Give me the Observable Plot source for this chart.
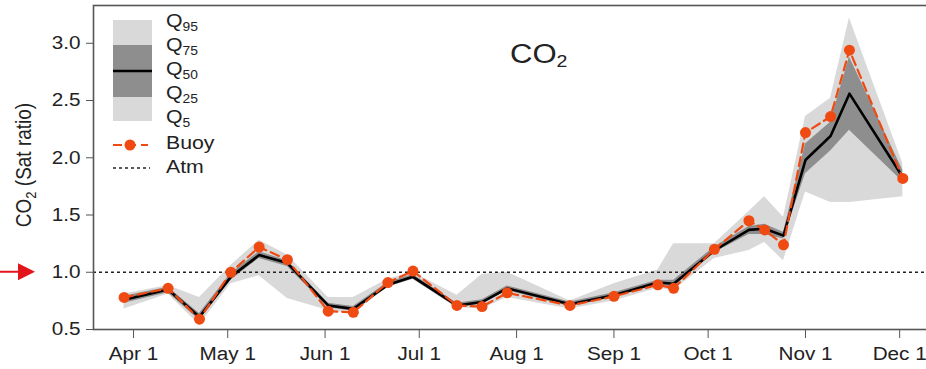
<!DOCTYPE html>
<html><head><meta charset="utf-8">
<script src="https://cdn.jsdelivr.net/npm/d3@7"></script>
<script src="https://cdn.jsdelivr.net/npm/@observablehq/plot@0.6"></script>
<style>body{margin:0;background:#fff;} #chart{width:926px;height:369px;overflow:hidden;}</style>
</head><body><div id="chart"></div>
<script>
// ---- data ----
const dates = ["2018-03-29","2018-04-12","2018-04-22","2018-05-02","2018-05-11","2018-05-20","2018-06-02","2018-06-10","2018-06-21","2018-06-29","2018-07-13","2018-07-21","2018-07-29","2018-08-18","2018-09-01","2018-09-15","2018-09-20","2018-10-03","2018-10-14","2018-10-19","2018-10-25","2018-11-01","2018-11-09","2018-11-15","2018-12-02"];
const q95  = [0.81,0.885,0.78,1.06,1.28,1.15,0.78,0.78,0.94,1.00,0.80,0.98,1.00,0.75,0.90,1.02,1.25,1.25,1.53,1.66,1.48,2.36,2.52,3.22,1.95];
const q75  = [0.79,0.87,0.64,0.99,1.18,1.10,0.73,0.70,0.91,0.98,0.73,0.76,0.88,0.74,0.82,0.93,0.93,1.22,1.40,1.42,1.35,2.12,2.31,2.88,1.89];
const q50  = [0.76,0.85,0.61,0.96,1.15,1.08,0.71,0.68,0.89,0.96,0.71,0.74,0.86,0.72,0.80,0.91,0.90,1.19,1.37,1.38,1.32,1.98,2.19,2.56,1.83];
const q25  = [0.73,0.82,0.58,0.93,1.12,1.05,0.69,0.66,0.87,0.94,0.69,0.72,0.84,0.70,0.78,0.89,0.87,1.17,1.33,1.33,1.29,1.86,2.06,2.24,1.79];
const q5   = [0.68,0.81,0.54,0.90,0.97,0.77,0.666,0.64,0.87,0.945,0.69,0.68,0.78,0.68,0.75,0.86,0.84,1.12,1.19,1.26,1.10,1.70,1.61,1.61,1.66];
const buoy = [0.78,0.86,0.59,1.00,1.22,1.11,0.66,0.65,0.91,1.01,0.71,0.70,0.82,0.71,0.79,0.89,0.86,1.20,1.45,1.37,1.24,2.22,2.36,2.94,1.82];
const atm = [1.0];
const yTicks = [0.5,1.0,1.5,2.0,2.5,3.0];
const xTicks = ["2018-04-01","2018-05-01","2018-06-01","2018-07-01","2018-08-01","2018-09-01","2018-10-01","2018-11-01","2018-12-01"];
const legendQ = [["Q","95"],["Q","75"],["Q","50"],["Q","25"],["Q","5"]];
const legendBuoy = "Buoy", legendAtm = "Atm";
const titleMain = "CO", titleSub = "2";
const yLabel = ["CO","2"," (Sat ratio)"];

const ORANGE = "#ef4a12";
const FONT = "'Liberation Sans', Arial, Helvetica, sans-serif";
const data = dates.map((d,i)=>({date:new Date(d), q5:q5[i], q25:q25[i], q50:q50[i], q75:q75[i], q95:q95[i], buoy:buoy[i]}));

const plot = Plot.plot({
  width: 926, height: 369,
  marginLeft: 93, marginRight: -3, marginTop: 5, marginBottom: 40,
  style: {fontFamily: FONT, fontSize: "18px", color: "#222", background: "#fff"},
  x: {type: "utc", domain: [new Date(Date.UTC(2018,2,19,6)), new Date(Date.UTC(2018,11,10,12))]},
  y: {domain: [0.5, 3.33]},
  marks: [
    Plot.areaY(data, {x:"date", y1:"q5", y2:"q95", fill:"#d9d9d9"}),
    Plot.areaY(data, {x:"date", y1:"q25", y2:"q75", fill:"#8e8e8e"}),
    Plot.ruleY(atm, {stroke:"#222", strokeWidth:1.4, strokeDasharray:"3,3"}),
    Plot.line(data, {x:"date", y:"q50", stroke:"#000", strokeWidth:2.6}),
    Plot.line(data, {x:"date", y:"buoy", stroke:ORANGE, strokeWidth:2.2, strokeDasharray:"9,5"}),
    Plot.dot(data, {x:"date", y:"buoy", r:5.5, fill:ORANGE, stroke:"none"}),
    Plot.frame({stroke:"#555", strokeWidth:1.6}),
    Plot.axisY({ticks:yTicks, tickFormat:d3.format(".1f"), tickSize:7, tickPadding:6, fontSize:18, label:null, stroke:"#555"}),
    Plot.axisX({ticks:xTicks.map(d=>new Date(d)), tickFormat:d3.utcFormat("%b %-d"), tickSize:9, tickPadding:9, fontSize:18, label:null, stroke:"#555"})
  ]
});
document.getElementById("chart").append(plot);

const svg = d3.select(plot);
const ys = plot.scale("y");
const g = svg.append("g").attr("font-family", FONT).attr("fill", "#222").attr("text-anchor", "start");

// title
const t = g.append("text").attr("x", 510).attr("y", 63).attr("font-size", 27).text(titleMain);
t.append("tspan").attr("font-size", 17).attr("dy", 4).text(titleSub);

// legend
g.append("rect").attr("x",113).attr("y",20).attr("width",39).attr("height",101).attr("fill","#d9d9d9");
g.append("rect").attr("x",113).attr("y",45).attr("width",39).attr("height",52).attr("fill","#8e8e8e");
g.append("line").attr("x1",113).attr("x2",152).attr("y1",71).attr("y2",71).attr("stroke","#000").attr("stroke-width",2.6);
legendQ.forEach(([a,b],i)=>{
  const tx = g.append("text").attr("x",166).attr("y",26.5+i*24.2).attr("font-size",18.5).text(a);
  tx.append("tspan").attr("font-size",12).attr("dy",4).text(b);
});
g.append("line").attr("x1",113).attr("x2",148).attr("y1",145).attr("y2",145).attr("stroke",ORANGE).attr("stroke-width",2.2).attr("stroke-dasharray","9,5");
g.append("circle").attr("cx",130).attr("cy",145).attr("r",5.5).attr("fill",ORANGE);
g.append("text").attr("x",166).attr("y",148.5).attr("font-size",18.5).text(legendBuoy);
g.append("line").attr("x1",113).attr("x2",150).attr("y1",168).attr("y2",168).attr("stroke","#222").attr("stroke-width",1.4).attr("stroke-dasharray","3,3");
g.append("text").attr("x",166).attr("y",173).attr("font-size",18.5).text(legendAtm);

// stretch horizontal texts to match the reference glyph widths
const S = 1.15;
svg.selectAll("text").each(function(){
  const L = this.getComputedTextLength();
  this.setAttribute("textLength", L*S);
  this.setAttribute("lengthAdjust", "spacingAndGlyphs");
});

// y label (rotated, stretched horizontally)
const yl = svg.append("g").attr("transform", "translate(31,165) scale(1.15,1) rotate(-90)")
  .append("text").attr("text-anchor","middle").attr("font-family",FONT).attr("font-size",19).attr("fill","#222");
yl.append("tspan").text(yLabel[0]);
yl.append("tspan").attr("font-size",13).attr("dy",4).text(yLabel[1]);
yl.append("tspan").attr("dy",-4).text(yLabel[2]);

// red arrow pointing at the 1.0 tick
const ay = ys.apply(atm[0]);
svg.append("line").attr("x1",0).attr("x2",20).attr("y1",ay).attr("y2",ay).attr("stroke","#e3141b").attr("stroke-width",2);
svg.append("path").attr("d",`M18,${ay-8.5}L35,${ay}L18,${ay+8.5}Z`).attr("fill","#e3141b");
</script>
</body></html>
